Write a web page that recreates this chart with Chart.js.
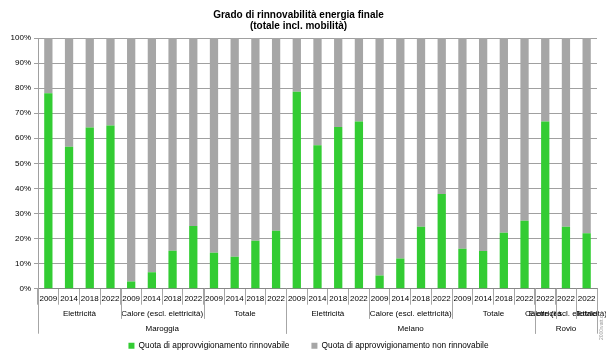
<!DOCTYPE html>
<html><head><meta charset="utf-8">
<script src="https://cdn.jsdelivr.net/npm/chart.js@4"></script>
<style>html,body{margin:0;padding:0;background:#fff}#wrap{width:606px;height:352px}</style>
</head><body><div id="wrap"><canvas id="c" width="606" height="352"></canvas></div>
<script>
const years = ['2009','2014','2018','2022','2009','2014','2018','2022','2009','2014','2018','2022',
               '2009','2014','2018','2022','2009','2014','2018','2022','2009','2014','2018','2022',
               '2022','2022','2022'];
const renewable = [78.0,56.6,64.3,65.1, 2.9,6.6,15.1,25.0, 14.3,12.7,19.1,23.1,
                   78.6,57.2,64.5,66.7, 5.3,12.0,24.7,37.8, 15.9,15.0,22.3,27.1,
                   66.7,24.7,22.1];
const nonRenewable = [22.0,43.4,35.7,34.9, 97.1,93.4,84.9,75.0, 85.7,87.3,80.9,76.9,
                      21.4,42.8,35.5,33.3, 94.7,88.0,75.3,62.2, 84.1,85.0,77.7,72.9,
                      33.3,75.3,77.9];
const groupLabels = ['Elettricità','Calore (escl. elettricità)','Totale',
                     'Elettricità','Calore (escl. elettricità)','Totale',
                     'Elettricità','Calore (escl. elettricità)','Totale'];
const groupSizes = [4,4,4, 4,4,4, 1,1,1];
const locationLabels = ['Maroggia','Melano','Rovio'];
const locationSizes = [12,12,3];
const seriesNames = ['Quota di approvvigionamento rinnovabile','Quota di approvvigionamento non rinnovabile'];
const titleLines = ['Grado di rinnovabilità energia finale','(totale incl. mobilità)'];

const FONT = '"Liberation Sans", Arial, sans-serif';
const LINE = '#a6a6a6';

const multiLevel = {
  id: 'multiLevel',
  afterLayout(chart) {
    const lg = chart.legend;
    if (lg) { lg.left += 10; lg.right += 10; lg.top += 8; lg.bottom += 8; }
  },
  afterDraw(chart) {
    const ctx = chart.ctx, x = chart.scales.x, area = chart.chartArea;
    const half = (x.getPixelForValue(1) - x.getPixelForValue(0)) / 2;
    const edge = i => x.getPixelForValue(i) - half;
    const bottom = area.bottom;
    ctx.save();
    ctx.strokeStyle = LINE; ctx.lineWidth = 1;
    ctx.fillStyle = '#000'; ctx.font = '8px ' + FONT;
    ctx.textAlign = 'center'; ctx.textBaseline = 'middle';
    let s = 0;
    groupSizes.forEach((n, k) => {
      const l = edge(s), r = edge(s + n);
      ctx.fillText(groupLabels[k], (l + r) / 2, bottom + 25);
      [l, r].forEach(px => { ctx.beginPath(); ctx.moveTo(Math.round(px) + 0.5, bottom); ctx.lineTo(Math.round(px) + 0.5, bottom + 30); ctx.stroke(); });
      s += n;
    });
    s = 0;
    locationSizes.forEach((n, k) => {
      const l = edge(s), r = edge(s + n);
      ctx.fillText(locationLabels[k], (l + r) / 2, bottom + 40.5);
      [l, r].forEach(px => { ctx.beginPath(); ctx.moveTo(Math.round(px) + 0.5, bottom); ctx.lineTo(Math.round(px) + 0.5, bottom + 45); ctx.stroke(); });
      s += n;
    });
    ctx.translate(602, 340); ctx.rotate(-Math.PI / 2);
    ctx.font = '5px ' + FONT; ctx.fillStyle = '#999'; ctx.textAlign = 'left';
    ctx.fillText('2000watt.ch', 0, 0);
    ctx.restore();
  }
};

new Chart(document.getElementById('c'), {
  type: 'bar',
  data: {
    labels: years,
    datasets: [
      { label: seriesNames[0], data: renewable, backgroundColor: '#33cc33', borderWidth: 0 },
      { label: seriesNames[1], data: nonRenewable, backgroundColor: '#a6a6a6', borderWidth: 0 }
    ]
  },
  options: {
    responsive: false, animation: false, devicePixelRatio: 1,
    layout: { padding: { left: 0, right: 9, top: 0, bottom: 0 } },
    datasets: { bar: { categoryPercentage: 1, barPercentage: 0.4 } },
    plugins: {
      title: { display: true, text: titleLines, color: '#000',
               font: { family: FONT, size: 10, weight: 'bold', lineHeight: 1.15 },
               padding: { top: 9, bottom: 6 } },
      legend: { position: 'bottom',
                labels: { boxWidth: 6, boxHeight: 6, color: '#000', padding: 22,
                          font: { family: FONT, size: 8.3 } } },
      tooltip: { enabled: false }
    },
    scales: {
      x: { stacked: true,
           afterFit: s => { s.height = 23; },
           grid: { offset: true, drawOnChartArea: false, color: LINE, tickLength: 16 },
           border: { color: '#888' },
           ticks: { autoSkip: false, maxRotation: 0, minRotation: 0, padding: -11, color: '#000',
                    font: { family: FONT, size: 8 } } },
      y: { stacked: true, min: 0, max: 100,
           afterFit: s => { s.width = 38; },
           grid: { color: '#a0a0a0', tickLength: 4 },
           border: { color: '#a0a0a0' },
           ticks: { stepSize: 10, padding: 3, color: '#000', callback: v => v + '%',
                    font: { family: FONT, size: 8 } } }
    }
  },
  plugins: [multiLevel]
});
</script></body></html>
